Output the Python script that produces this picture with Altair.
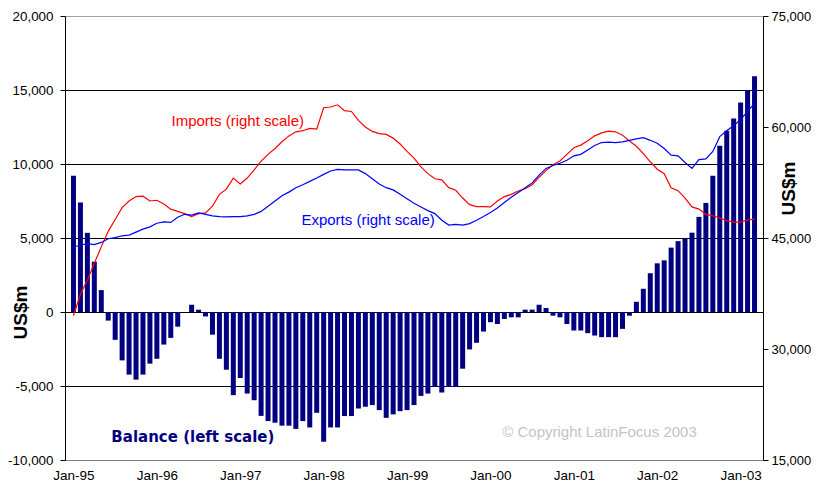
import altair as alt
import pandas as pd

# ---------------- data (monthly, Jan-95 .. Mar-03, 12-month sums, US$m) ----------------
MONTHS = list(pd.date_range("1995-01-01", periods=99, freq="MS").strftime("%b-%y"))

BALANCE = [
    9200, 7400, 5350, 3400, 1480, -580, -1880, -3270, -4230, -4570, -4230, -3490,
    -3160, -2200, -1750, -990, -20, 490, 155, -300, -1530, -3160, -3900, -5620,
    -4460, -5510, -5960, -7020, -7370, -7480, -7680, -7680, -7900, -7370, -7800, -6810,
    -8760, -7800, -7800, -7030, -7030, -6520, -6400, -6290, -6630, -7150, -6920, -6700,
    -6630, -6290, -5670, -5510, -5060, -5440, -5060, -5060, -3830, -2530, -2080, -1320,
    -690, -810, -470, -360, -360, 160, 160, 490, 270, -250, -360, -810,
    -1250, -1250, -1430, -1590, -1700, -1700, -1700, -1140, -250, 690, 1570, 2620,
    3290, 3490, 4350, 4790, 4970, 5360, 6430, 7370, 9210, 11240, 12250, 13080,
    14160, 14990, 15930,
]

IMPORTS = [
    34500, 37400, 39300, 41600, 43800, 45900, 47500, 49100, 50000, 50600, 50650, 50000,
    50100, 49600, 48900, 48600, 48300, 47900, 48300, 48400, 49300, 50900, 51600, 53100,
    52300, 53100, 54200, 55400, 56300, 57100, 58000, 58800, 59350, 59500, 59800, 59700,
    62600, 62700, 63000, 62200, 62100, 60900, 60000, 59400, 59100, 59000, 58500, 57700,
    56700, 55800, 54600, 53700, 53000, 52850, 51800, 51450, 50400, 49500, 49250, 49250,
    49200, 50000, 50600, 50900, 51350, 51650, 52200, 53200, 54100, 54900, 55400, 56300,
    57200, 57550, 58150, 58800, 59200, 59430, 59350, 58900, 58100, 57400, 56400, 55300,
    54300, 53700, 51800, 51400, 50400, 49200, 48900, 48200, 48000, 47700, 47350, 47150,
    47150, 47450, 47550,
]

EXPORTS = [
    43750, 44050, 44250, 44100, 44400, 44900, 45050, 45300, 45400, 45800, 46200, 46500,
    47000, 47190, 47100, 47800, 48200, 48100, 48400, 48200, 48000, 47900, 47850, 47900,
    47900, 48000, 48200, 48600, 49300, 50000, 50700, 51200, 51800, 52200, 52650, 53100,
    53600, 54050, 54280, 54200, 54200, 54200, 53700, 53000, 52300, 51800, 51500, 50900,
    50300, 49700, 49200, 48700, 48300, 47400, 46750, 46850, 46750, 46950, 47400, 47900,
    48450, 49050, 49800, 50500, 51150, 51800, 52450, 53500, 54400, 54800, 55100, 55500,
    56100, 56300, 56900, 57500, 57900, 57950, 57900, 58000, 58200, 58400, 58550, 58200,
    57800, 57100, 56200, 56100, 55200, 54400, 55600, 55700, 56700, 58700, 59500, 60200,
    61000, 62100, 63200,
]

TICK_LABELS = ["Jan-95", "Jan-96", "Jan-97", "Jan-98", "Jan-99",
               "Jan-00", "Jan-01", "Jan-02", "Jan-03"]
TICK_POS = [MONTHS.index(t) for t in TICK_LABELS]

LEFT_TICKS = [-10000, -5000, 0, 5000, 10000, 15000, 20000]
RIGHT_TICKS = [15000, 30000, 45000, 60000, 75000]

# annotations (data coordinates)
BALANCE_NOTE = pd.DataFrame({"idx": [5.45], "balance": [-8450], "text": ["Balance (left scale)"]})
COPY_NOTE = pd.DataFrame({"idx": [61.7], "balance": [-8130], "text": ["\u00a9 Copyright LatinFocus 2003"]})
RIGHT_NOTES = pd.DataFrame({
    "idx": [14.1, 32.8],
    "value": [60780, 47400],
    "text": ["Imports (right scale)", "Exports (right scale)"],
    "series": ["Imports", "Exports"],
})

# ---------------- tables ----------------
n = len(MONTHS)
bars_df = pd.DataFrame({"idx": list(range(n)), "month": MONTHS, "balance": BALANCE})
lines_df = pd.concat([
    pd.DataFrame({"idx": list(range(n)), "month": MONTHS, "value": IMPORTS, "series": "Imports"}),
    pd.DataFrame({"idx": list(range(n)), "month": MONTHS, "value": EXPORTS, "series": "Exports"}),
])

FONT = "Liberation Sans"
MINUS = "\u2212"

label_expr_x = ("[" + ",".join(f"'{t}'" for t in TICK_LABELS) + "]"
                "[indexof([" + ",".join(str(p) for p in TICK_POS) + "], datum.value)]")
num_expr = f"replace(format(datum.value, ','), '{MINUS}', '-')"

x_enc = alt.X(
    "idx:Q",
    scale=alt.Scale(domain=[-0.5, n - 0.5], nice=False, zero=False),
    axis=alt.Axis(
        values=TICK_POS, labelExpr=label_expr_x, title=None, ticks=False,
        labelPadding=8, labelFlush=False, labelFont=FONT, labelFontSize=13.5,
        labelColor="black", domainColor="#808080", grid=False,
    ),
)

left_axis = alt.Axis(
    values=LEFT_TICKS, labelExpr=num_expr, title="US$m",
    titleFont=FONT, titleFontSize=19, titleFontWeight="bold", titleColor="black",
    titleAngle=270, titleX=-45, titleY=296, titleAlign="center", titleBaseline="middle",
    labelFont=FONT, labelFontSize=13.4, labelColor="black", labelPadding=7,
    tickSize=5, tickColor="black", domainColor="black",
    grid=True,
    gridColor={"condition": {"test": "datum.value === 20000", "value": "#a0a0a0"},
               "value": "black"},
    gridOpacity=1,
)

right_axis = alt.Axis(
    orient="right", values=RIGHT_TICKS, labelExpr=num_expr, title="US$m",
    titleFont=FONT, titleFontSize=19, titleFontWeight="bold", titleColor="black",
    titleAngle=270, titleX=25, titleY=172, titleAlign="center", titleBaseline="middle",
    labelFont=FONT, labelFontSize=13, labelColor="black", labelPadding=3,
    tickSize=5, tickColor="black", domainColor="black", grid=False,
)

left_scale = alt.Scale(domain=[-10000, 20000], nice=False, zero=False)
right_scale = alt.Scale(domain=[15000, 75000], nice=False, zero=False)

bars = alt.Chart(bars_df).mark_bar(size=5, color="#000080").encode(
    x=x_enc,
    y=alt.Y("balance:Q", scale=left_scale, axis=left_axis),
    tooltip=["month", "balance"],
)

balance_text = alt.Chart(BALANCE_NOTE).mark_text(
    align="left", baseline="middle", font="DejaVu Sans", fontWeight="bold",
    fontSize=15, color="#000080",
).encode(x="idx:Q", y=alt.Y("balance:Q"), text="text:N")

copy_text = alt.Chart(COPY_NOTE).mark_text(
    align="left", baseline="middle", font=FONT, fontSize=15, color="#c4c4c4",
).encode(x="idx:Q", y=alt.Y("balance:Q"), text="text:N")

left = alt.layer(bars, balance_text, copy_text)

color_scale = alt.Scale(domain=["Imports", "Exports"], range=["#ff0000", "#0000ff"])

lines = alt.Chart(lines_df).mark_line(strokeWidth=1.2).encode(
    x="idx:Q",
    y=alt.Y("value:Q", scale=right_scale, axis=right_axis),
    color=alt.Color("series:N", scale=color_scale, legend=None),
    detail="series:N",
)

right_text = alt.Chart(RIGHT_NOTES).mark_text(
    align="left", baseline="middle", font=FONT, fontSize=15
).encode(
    x="idx:Q",
    y=alt.Y("value:Q"),
    text="text:N",
    color=alt.Color("series:N", scale=color_scale, legend=None),
)

right = alt.layer(lines, right_text)

chart = (
    alt.layer(left, right)
    .resolve_scale(y="independent")
    .properties(
        width=698, height=444,
        autosize=alt.AutoSizeParams(type="none"),
        padding={"left": 57, "top": 8, "right": 49, "bottom": 22},
        background="white",
    )
    .configure_view(stroke=None)
)

chart.save("out.html", embed_options={"renderer": "svg", "actions": False})
